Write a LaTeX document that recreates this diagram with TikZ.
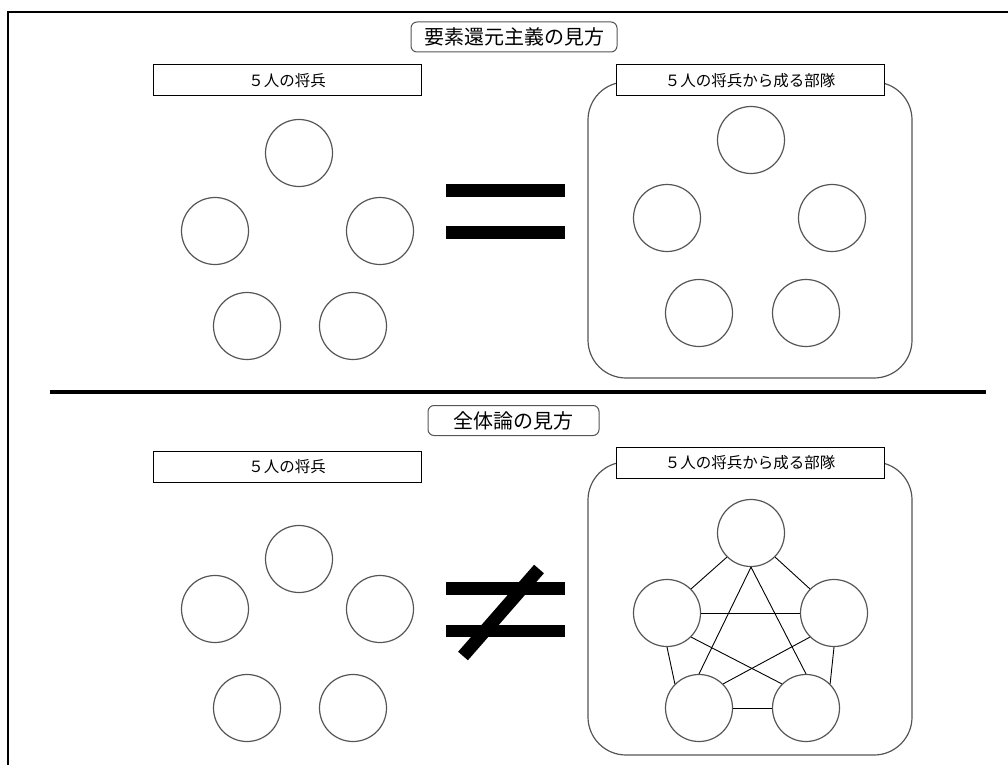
\documentclass[tikz,border=0pt]{standalone}
\usepackage{fontspec}
\setmainfont{Noto Sans CJK JP}
\definecolor{ringgray}{RGB}{85, 85, 85}

\tikzset{
  soldier/.style={circle, draw=ringgray, line width=1.2pt, minimum size=67pt, inner sep=0pt},
  groupbox/.style={draw, line width=1pt, fill=white, minimum width=268pt, minimum height=31pt,
    inner sep=0pt, font=\fontsize{15.5}{16}\selectfont},
  viewbox/.style={draw=ringgray, line width=1pt, rounded corners=6pt, fill=white,
    minimum height=30pt, inner sep=0pt, font=\fontsize{20}{20}\selectfont},
  unitbox/.style={draw=ringgray, line width=1.2pt, rounded corners=38pt},
  bond/.style={line width=0.9pt},
}

\begin{document}
\begin{tikzpicture}[x=1pt, y=-1pt]
        \useasboundingbox (0,0) rectangle (1008,765);

        % Frame and separator
        \draw[line width=2pt] (8,765) -- (8,12) -- (1008,12);
        \draw[line width=4pt] (50,392) -- (986,392);

        % Reductionist view
        \node[viewbox, minimum width=206pt] (viewA) at (514,37) {要素還元主義の見方};
        \draw[unitbox] (588,82) rectangle (912,378);
        \node[groupbox] (menA) at (287,80.5) {５人の将兵};
        \node[groupbox] (unitA) at (750,80.5) {５人の将兵から成る部隊};

        \node[soldier] (a1) at (299,153) {};
        \node[soldier] (a2) at (215,231) {};
        \node[soldier] (a3) at (380,231) {};
        \node[soldier] (a4) at (247,326) {};
        \node[soldier] (a5) at (353,326) {};

        \fill (446,184) rectangle (565,197);
        \fill (446,226) rectangle (565,239);

        \node[soldier] (b1) at (751,140) {};
        \node[soldier] (b2) at (667,218) {};
        \node[soldier] (b3) at (832,218) {};
        \node[soldier] (b4) at (699,313) {};
        \node[soldier] (b5) at (806,313) {};

        % Holistic view
        \node[viewbox, minimum width=171pt] (viewB) at (513.5,420.5) {全体論の見方};
        \draw[unitbox] (588,462) rectangle (912,755);
        \node[groupbox] (menB) at (287,467) {５人の将兵};
        \node[groupbox] (unitB) at (750,463) {５人の将兵から成る部隊};

        \node[soldier] (c1) at (299,559) {};
        \node[soldier] (c2) at (215,609) {};
        \node[soldier] (c3) at (380,609) {};
        \node[soldier] (c4) at (247,708) {};
        \node[soldier] (c5) at (353,708) {};

        \fill (446,582) rectangle (565,595);
        \fill (446,625) rectangle (565,637);
        \draw[line width=13pt] (463,656) -- (539,569);

        \node[soldier] (d1) at (751,533) {};
        \node[soldier] (d2) at (667,613) {};
        \node[soldier] (d3) at (834,613) {};
        \node[soldier] (d4) at (699,708) {};
        \node[soldier] (d5) at (806,708) {};

        % Every soldier tied to every other one
        \draw[bond] (d1.south west) -- (d2.north east);
        \draw[bond] (d1.south east) -- (d3.north west);
        \draw[bond] (d1.south) -- (d4.north);
        \draw[bond] (d1.south) -- (d5.north);
        \draw[bond] (d2.east) -- (d3.west);
        \draw[bond] (d2.south) -- (d4.north west);
        \draw[bond] (d3.south) -- (d5.north east);
        \draw[bond] (d2.south east) -- (d5.north west);
        \draw[bond] (d3.south west) -- (d4.north east);
        \draw[bond] (d4.east) -- (d5.west);
    \end{tikzpicture}
\end{document}
